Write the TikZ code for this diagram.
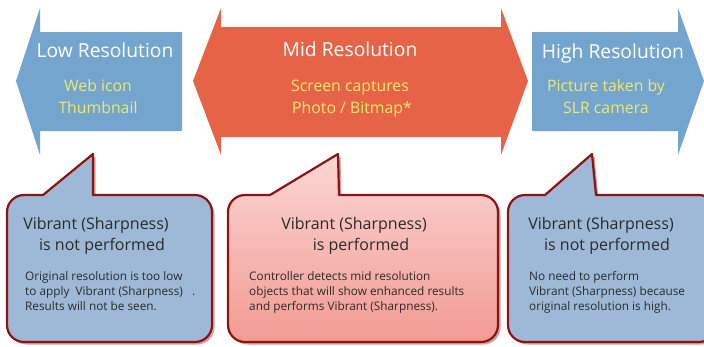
\documentclass[tikz,border=0pt]{standalone}
\usepackage{fontspec}
\setmainfont{Open Sans}
\usetikzlibrary{shadows}

\definecolor{lowblue}{HTML}{74A5CF}
\definecolor{midred}{HTML}{E66348}
\definecolor{subyellow}{HTML}{F2E968}
\definecolor{bubbleblue}{HTML}{9DB9D7}
\definecolor{bubbleedge}{HTML}{8E1414}
\definecolor{bubbletop}{HTML}{FBD6D5}
\definecolor{bubblebot}{HTML}{F29A92}
\definecolor{bodytext}{HTML}{2B2B2B}

\begin{document}
\begin{tikzpicture}[x=1pt, y=-1pt,
  resarrow/.style={fill=#1, draw=none},
  restitle/.style={text=white, font=\fontsize{19.3}{22}\selectfont},
  ressub/.style={text=subyellow, align=center, font=\fontsize{15.8}{22}\selectfont},
  bubble/.style={draw=bubbleedge, line width=2.2pt, line join=round,
    drop shadow={shadow xshift=2.5pt, shadow yshift=-2.5pt, fill=bubbleedge, opacity=0.4}},
  bubblehead/.style={text=bodytext, align=center, font=\fontsize{16}{21}\selectfont},
  bubblebody/.style={text=bodytext, align=left, anchor=north west, inner sep=0pt,
    font=\fontsize{11.8}{15}\selectfont}
]
\useasboundingbox (0,0) rectangle (704,346);

% resolution arrows
\fill[resarrow=lowblue] (16,81) -- (40,8) -- (40,32) -- (182,32) -- (182,131) -- (40,131) -- (40,155) -- cycle;
\fill[resarrow=midred] (193,81) -- (221,8) -- (221,27) -- (501,27) -- (501,8) -- (528,81)
  -- (501,155) -- (501,137) -- (221,137) -- (221,155) -- cycle;
\fill[resarrow=lowblue] (532,32) -- (678,32) -- (678,8) -- (704,81) -- (678,155) -- (678,131) -- (532,131) -- cycle;

\node[restitle] (lowtitle) at (105,50) {Low Resolution};
\node[ressub] (lowsub) at (98,97) {Web icon\\Thumbnail};
\node[restitle] (midtitle) at (350,49) {Mid Resolution};
\node[ressub] (midsub) at (350,99) {Screen captures\\\hspace*{4pt}Photo / Bitmap*};
\node[restitle] (hightitle) at (613,53) {High Resolution};
\node[ressub] (highsub) at (606,97) {Picture taken by\\SLR camera};

% callouts
\draw[bubble, fill=bubbleblue] (93,195) [rounded corners=17pt] -- (212,195) -- (212,342) -- (7,342)
  -- (7,195) [sharp corners] -- (43,195) -- (93,154) -- cycle;
\draw[bubble, top color=bubbletop, bottom color=bubblebot] (339,195) [rounded corners=17pt] -- (498,195)
  -- (498,342) -- (228,342) -- (228,195) [sharp corners] -- (270,195) -- (338,154) -- cycle;
\draw[bubble, fill=bubbleblue] (596,195) [rounded corners=17pt] -- (716,195) -- (716,342) -- (508,342)
  -- (508,195) [sharp corners] -- (545,195) -- (592,154) -- cycle;

\node[bubblehead] (lowhead) at (96,235.5) {Vibrant (Sharpness)\\\hspace*{12pt}is not performed};
\node[bubblebody] (lowbody) at (25,271) {Original resolution is too low\\to apply \ Vibrant (Sharpness) \ \ .\\Results will not be seen.};
\node[bubblehead] (midhead) at (354,235.5) {Vibrant (Sharpness)\\\hspace*{14pt}is performed};
\node[bubblebody] (midbody) at (249,271) {Controller detects mid resolution\\objects that will show enhanced results\\and performs Vibrant (Sharpness).};
\node[bubblehead] (highhead) at (601,235.5) {Vibrant (Sharpness)\\\hspace*{12pt}is not performed};
\node[bubblebody] (highbody) at (529,271) {No need to perform\\Vibrant (Sharpness) because\\original resolution is high.};
\end{tikzpicture}
\end{document}
